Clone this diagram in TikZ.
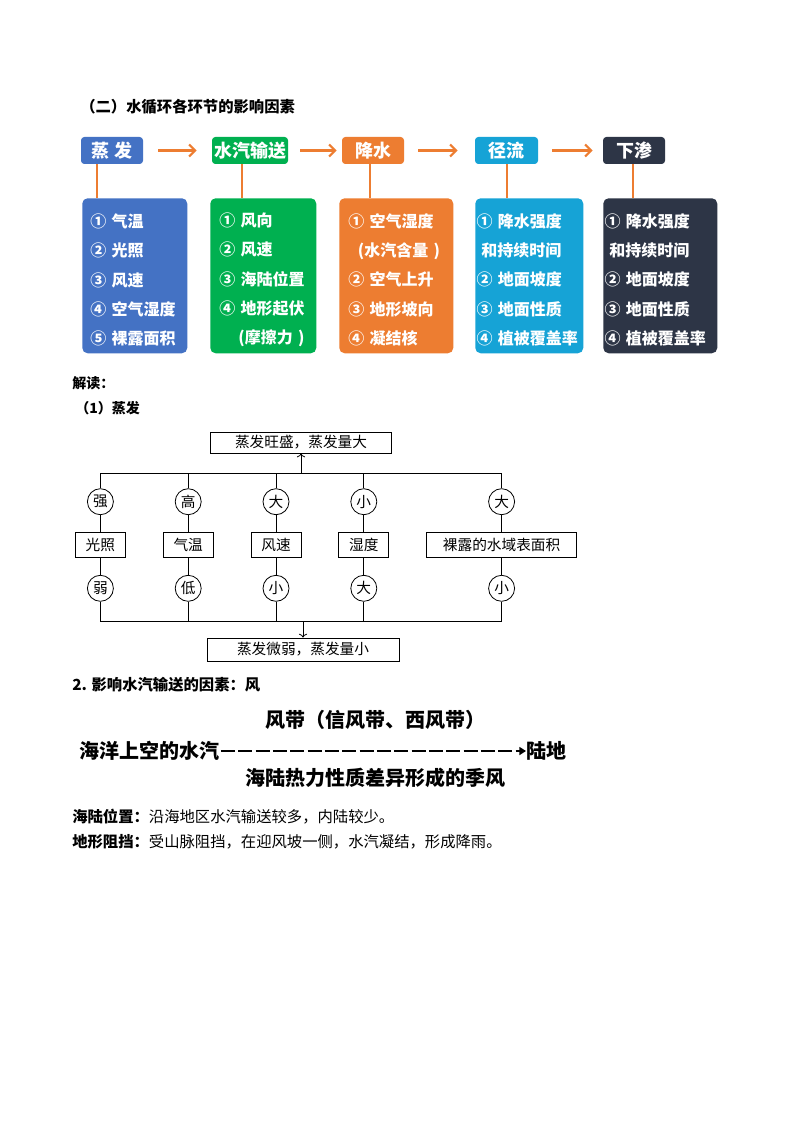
\documentclass[tikz,border=0pt]{standalone}
\usepackage{fontspec}
\usepackage{tikz}
\usetikzlibrary{matrix,arrows.meta}
\newfontfamily\hei{Noto Sans CJK SC}
\definecolor{evapblue}{RGB}{68,114,196}
\definecolor{transgreen}{RGB}{0,176,80}
\definecolor{rainorange}{RGB}{237,125,49}
\definecolor{runcyan}{RGB}{22,163,214}
\definecolor{seepdark}{RGB}{45,53,70}

\begin{document}
\begin{tikzpicture}[x=0.75pt,y=-0.75pt,
  stage/.style={fill=#1, rounded corners=2.5pt, text=white, inner sep=0pt, minimum height=20.25pt, font=\hei\bfseries\fontsize{13.5pt}{16pt}\selectfont},
  factors/.style={fill=#1, rounded corners=4pt, text=white, anchor=north west, align=left, inner ysep=0pt, minimum height=116.25pt, font=\hei\bfseries\fontsize{12pt}{21.9pt}\selectfont, execute at begin node=\rule{0pt}{16.5pt}},
  stalk/.style={draw=rainorange, line width=1.5pt},
  flowarrow/.style={draw=rainorange, line width=1.6pt, -{Straight Barb[length=4.5pt,width=9pt]}},
  heading/.style={anchor=west, inner sep=0pt, font=\hei\bfseries\fontsize{#1}{#1}\selectfont},
  wire/.style={line width=0.6pt},
  result/.style={draw, line width=0.6pt, inner sep=0pt, font=\hei\fontsize{11pt}{13pt}\selectfont},
  windtext/.style={font=\hei\bfseries\fontsize{15pt}{17pt}\selectfont},
  windline/.style={line width=1.5pt, dash pattern=on 10.5pt off 2.5pt, -{Triangle[length=5pt,width=6pt]}},
  bodyline/.style={anchor=west, inner sep=0pt, font=\hei\fontsize{11.5pt}{14pt}\selectfont}]
\path[fill=white] (0,0) rectangle (794,1123);

\node[heading=11.5pt] (title) at (80,107) {（二）水循环各环节的影响因素};

\node[stage=evapblue, minimum width=46.5pt] (s1) at (112,150.5) {蒸 发};
\node[stage=transgreen, minimum width=57pt] (s2) at (250,150.5) {水汽输送};
\node[stage=rainorange, minimum width=46.5pt] (s3) at (373,150.5) {降水};
\node[stage=runcyan, minimum width=47.25pt] (s4) at (506.5,150.5) {径流};
\node[stage=seepdark, minimum width=46.5pt] (s5) at (634,150.5) {下渗};

\node[factors=evapblue, inner xsep=6pt, text width=66.75pt] (f1) at (82,198)
  {①~气温\\②~光照\\③~风速\\④~空气湿度\\⑤~裸露面积};
\node[factors=transgreen, inner xsep=6.75pt, text width=66pt] (f2) at (210,198)
  {①~风向\\②~风速\\③~海陆位置\\④~地形起伏\\\hspace*{1.2em}(摩擦力~)};
\node[factors=rainorange, inner xsep=6.75pt, text width=72pt] (f3) at (339,198)
  {①~空气湿度\\\hspace*{0.6em}(水汽含量~)\\②~空气上升\\③~地形坡向\\④~凝结核};
\node[factors=runcyan, inner xsep=1pt, text width=79pt] (f4) at (475,198)
  {①~降水强度\\\hspace*{0.3em}和持续时间\\②~地面坡度\\③~地面性质\\④~植被覆盖率};
\node[factors=seepdark, inner xsep=1pt, text width=83.5pt] (f5) at (603,198)
  {①~降水强度\\\hspace*{0.3em}和持续时间\\②~地面坡度\\③~地面性质\\④~植被覆盖率};

\draw[stalk] ([xshift=-11.25pt]s1.south) -- ([xshift=-11.25pt]s1.south |- f1.north);
\draw[stalk] ([xshift=-6pt]s2.south) -- ([xshift=-6pt]s2.south |- f2.north);
\draw[stalk] ([xshift=-2.25pt]s3.south) -- ([xshift=-2.25pt]s3.south |- f3.north);
\draw[stalk] (s4.south) -- (s4.south |- f4.north);
\draw[stalk] ([xshift=-0.75pt]s5.south) -- ([xshift=-0.75pt]s5.south |- f5.north);

\draw[flowarrow, shorten <=11.25pt, shorten >=11.25pt] (s1) -- (s2);
\draw[flowarrow, shorten <=9pt, shorten >=3.75pt] (s2) -- (s3);
\draw[flowarrow, shorten <=10.5pt, shorten >=12.75pt] (s3) -- (s4);
\draw[flowarrow, shorten <=10.5pt, shorten >=7.5pt] (s4) -- (s5);

\node[heading=10.5pt] (reading) at (72,383) {解读：};
\node[heading=10.5pt] (part1) at (75,408) {（1）蒸发};

\matrix (ev) [matrix of nodes, column sep=27.75pt, row sep=12.75pt, anchor=center,
  nodes={anchor=center, draw, line width=0.6pt, inner sep=0pt, font=\hei\fontsize{11pt}{13pt}\selectfont},
  row 1/.style={nodes={circle, minimum size=19.5pt}},
  row 2/.style={nodes={rectangle, minimum width=37.5pt, minimum height=18.75pt}},
  row 3/.style={nodes={circle, minimum size=19.5pt}}] at (326,545) {
  强   & 高   & 大   & 小   & 大 \\
  光照 & 气温 & 风速 & 湿度 & |[minimum width=112.5pt]| 裸露的水域表面积 \\
  弱   & 低   & 小   & 大   & 小 \\
};
\path (ev-1-1.north) ++(0,-15) coordinate (topbar);
\path (ev-3-1.south) ++(0,20) coordinate (botbar);
\node[result, minimum width=135.75pt, minimum height=15.75pt] (up) at (301,442.5) {蒸发旺盛，蒸发量大};
\node[result, minimum width=144pt, minimum height=17.25pt] (down) at (303,649.5) {蒸发微弱，蒸发量小};

\draw[wire] (ev-1-1.north) -- (topbar) -| (ev-1-5.north);
\draw[wire] (ev-1-2) -- (ev-1-2 |- topbar);
\draw[wire] (ev-1-3) -- (ev-1-3 |- topbar);
\draw[wire] (ev-1-4) -- (ev-1-4 |- topbar);
\draw[wire, ->] (up |- topbar) -- (up);
\draw[wire] (ev-1-1) -- (ev-2-1);
\draw[wire] (ev-1-2) -- (ev-2-2);
\draw[wire] (ev-1-3) -- (ev-2-3);
\draw[wire] (ev-1-4) -- (ev-2-4);
\draw[wire] (ev-1-5) -- (ev-2-5);
\draw[wire] (ev-2-1) -- (ev-3-1);
\draw[wire] (ev-2-2) -- (ev-3-2);
\draw[wire] (ev-2-3) -- (ev-3-3);
\draw[wire] (ev-2-4) -- (ev-3-4);
\draw[wire] (ev-2-5) -- (ev-3-5);
\draw[wire] (ev-3-1.south) -- (botbar) -| (ev-3-5.south);
\draw[wire] (ev-3-2) -- (ev-3-2 |- botbar);
\draw[wire] (ev-3-3) -- (ev-3-3 |- botbar);
\draw[wire] (ev-3-4) -- (ev-3-4 |- botbar);
\draw[wire, ->] (down |- botbar) -- (down);

\node[heading=11.5pt] (part2) at (72,685) {2. 影响水汽输送的因素：风};
\node[windtext] (belt) at (375,720) {风带（信风带、西风带）};
\node[windtext, anchor=west, inner xsep=0.5pt] (sea) at (79,751) {海洋上空的水汽};
\node[windtext, anchor=west, inner xsep=0.5pt] (land) at (526,751) {陆地};
\node[windtext] (monsoon) at (375,778) {海陆热力性质差异形成的季风};
\draw[windline] (sea) -- (land);

\node[bodyline] (coast) at (72,817) {\bfseries 海陆位置：\mdseries 沿海地区水汽输送较多，内陆较少。};
\node[bodyline] (terrain) at (72,842) {\bfseries 地形阻挡：\mdseries 受山脉阻挡，在迎风坡一侧，水汽凝结，形成降雨。};
\end{tikzpicture}
\end{document}
